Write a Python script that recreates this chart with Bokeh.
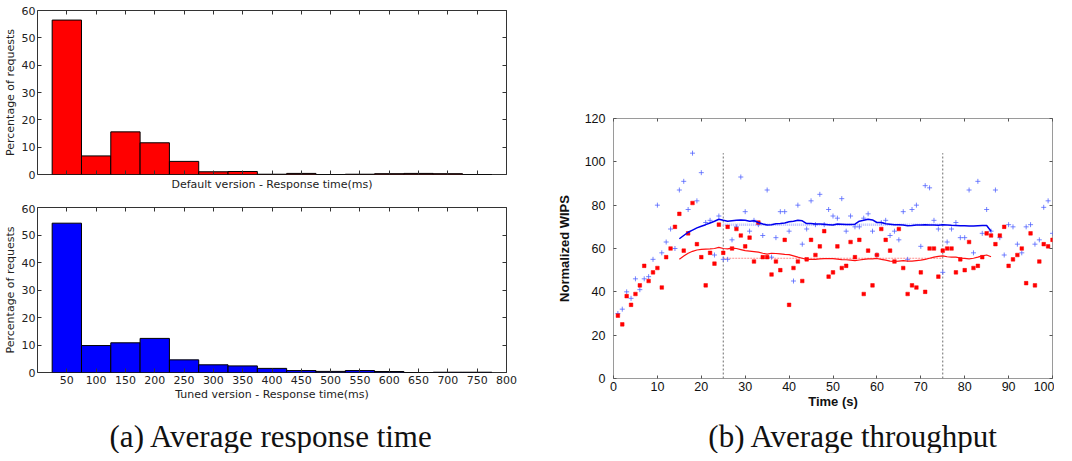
from bokeh.plotting import figure
from bokeh.models import LinearAxis, FixedTicker, Range1d
from bokeh.layouts import column, row
from bokeh.embed import file_html
from bokeh.resources import INLINE
from bokeh.core.properties import value

# ---------------- data ----------------
bin_centers = [50, 100, 150, 200, 250, 300, 350, 400, 450, 500, 550, 600, 650, 700, 750]
default_pct = [56.5, 6.8, 15.6, 11.6, 4.8, 1.0, 1.1, 0.1, 0.4, 0.0, 0.1, 0.3, 0.4, 0.3, 0.0]
tuned_pct = [54.3, 9.8, 10.8, 12.4, 4.6, 2.8, 2.4, 1.5, 0.7, 0.4, 0.7, 0.35, 0.0, 0.1, 0.1]
hist_ticks = [50, 100, 150, 200, 250, 300, 350, 400, 450, 500, 550, 600, 650, 700, 750, 800]
pct_ticks = [0, 10, 20, 30, 40, 50, 60]

time_s = list(range(1, 101))
wips_default = [29, 25, 38, 34, 39, 43, 52, 45, 49, 51,
                42, 56, 60, 70, 76, 59, 67, 81, 62, 56,
                43, 58, 53, 71, 58, 70, 60, 69, 66, 61,
                65, 54, 72, 56, 56, 48, 54, 50, 64, 34,
                51, 54, 45, 55, 64, 57, 61, 68, 47, 49,
                61, 51, 52, 63, 56, 64, 39, 59, 43, 57,
                69, 64, 59, 54, 69, 51, 39, 43, 42, 49,
                40, 60, 60, 47, 59, 60, 60, 49, 55, 50,
                63, 51, 52, 56, 67, 66, 62, 66, 70, 52,
                55, 57, 60, 44, 67, 43, 54, 62, 61, 64]
wips_tuned = [30, 32, 40, 37, 46, 41, 46, 47, 55, 80,
              58, 63, 69, 60, 87, 91, 78, 104, 82, 95,
              72, 73, 57, 75, 55, 55, 64, 70, 93, 77,
              68, 73, 71, 66, 87, 56, 65, 77, 77, 68,
              45, 80, 62, 69, 82, 71, 85, 71, 78, 75,
              74, 83, 68, 75, 70, 70, 74, 76, 68, 57,
              72, 73, 66, 68, 64, 77, 55, 78, 80, 61,
              89, 88, 73, 69, 49, 63, 69, 72, 65, 65,
              87, 58, 91, 67, 78, 68, 87, 65, 57, 71,
              70, 62, 58, 70, 71, 62, 64, 79, 82, 67]

avg_time = list(range(15, 87))
avg_tuned = [64.5, 66, 67.5, 68.5, 69.5, 70.3, 71, 71.8, 72.6, 73.5,
             73, 72.6, 72.8, 73, 73.2, 73, 72.6, 72.8, 72, 71.3,
             70.8, 71, 71.4, 71.5, 71.8, 72.3, 72.6, 73, 72.8, 71.5,
             71.5, 71.3, 71.3, 71.2, 71, 70.8, 71.3, 71.2, 71.1, 71.1,
             71.2, 72.6, 73, 73.5, 73.2, 72, 72, 71.4, 71.2, 71,
             71, 70.8, 70.5, 70.6, 70.8, 70.8, 71, 70.9, 70.9, 70.7,
             71, 70.9, 70.7, 70.6, 70.5, 70.5, 70.4, 70.4, 70.5, 70.6,
             70.6, 68]
avg_default = [55, 56.5, 57.8, 58.7, 59.3, 59.6, 59.7, 59.8, 60, 60.5,
               60, 59.8, 60.2, 60, 59.5, 59, 58.8, 58.6, 58.3, 57.8,
               57.4, 57.8, 57.7, 57.5, 57.3, 57.2, 56.6, 56, 55.5, 55,
               55, 55, 55.2, 55.3, 55.3, 55.3, 55.1, 54.9, 54.8, 54.6,
               54.4, 54.7, 55, 55.2, 55.2, 55.4, 55, 54.6, 54.2, 54,
               54.2, 54.4, 54.2, 54.2, 54.4, 54.6, 55, 55.5, 56, 56.4,
               56.6, 56.2, 56, 56, 55.6, 55.4, 55.2, 55.5, 56, 56.6,
               57, 56.2]

steady_window = [25, 75]
steady_tuned = 71.0
steady_default = 55.5
phase_bounds = [25, 75]
phase_top = 104
time_ticks = [0, 10, 20, 30, 40, 50, 60, 70, 80, 90, 100]
wips_ticks = [0, 20, 40, 60, 80, 100, 120]

captions = ["(a) Average response time", "(b) Average throughput"]

HFONT = "DejaVu Sans"
SFONT = "Liberation Sans"


def hide_labels(ax):
    ax.major_label_text_color = None
    ax.major_label_text_font_size = "1px"
    ax.major_label_standoff = 0


def tick_axis(ticker, tick_len, color):
    ax = LinearAxis(ticker=FixedTicker(ticks=ticker),
                    major_tick_in=tick_len, major_tick_out=0,
                    minor_tick_in=0, minor_tick_out=0, axis_line_color=None,
                    major_tick_line_color=color)
    hide_labels(ax)
    return ax


def hist_fig(vals, color, xlabel, show_xlabels, frame_h, top_border, bottom_border):
    p = figure(frame_width=469, frame_height=frame_h,
               x_range=Range1d(0, 800), y_range=Range1d(0, 60),
               min_border_left=31, min_border_right=18,
               min_border_top=top_border, min_border_bottom=bottom_border,
               output_backend="svg", toolbar_location=None)
    p.vbar(x=bin_centers, width=50, top=vals, bottom=0, fill_color=color,
           line_color="black", line_width=1)
    p.grid.visible = False
    p.outline_line_color = "#333333"
    p.outline_line_width = 1
    for ax in p.axis:
        ax.axis_line_color = None
        ax.major_tick_in = 4
        ax.major_tick_out = 0
        ax.minor_tick_in = 0
        ax.minor_tick_out = 0
        ax.major_tick_line_color = "#333333"
        ax.major_label_text_font = HFONT
        ax.major_label_text_font_size = "11px"
        ax.major_label_text_color = "#222222"
        ax.axis_label_text_font = HFONT
        ax.axis_label_text_font_size = "11px"
        ax.axis_label_text_font_style = "normal"
        ax.axis_label_text_color = "#222222"
    p.xaxis.ticker = FixedTicker(ticks=hist_ticks)
    p.yaxis.ticker = FixedTicker(ticks=pct_ticks)
    p.yaxis.axis_label = "Percentage of requests"
    p.yaxis.major_label_standoff = 2
    p.yaxis.axis_label_standoff = 2
    p.xaxis.axis_label = xlabel
    if show_xlabels:
        p.xaxis.major_label_standoff = 3
        p.xaxis.axis_label_standoff = 1
    else:
        hide_labels(p.xaxis[0])
        p.xaxis.axis_label_standoff = 3
    p.add_layout(tick_axis(hist_ticks, 4, "#333333"), "above")
    p.add_layout(tick_axis(pct_ticks, 4, "#333333"), "right")
    return p


h_default = hist_fig(default_pct, "#ff0000", "Default version - Response time(ms)", False, 164, 10, 30)
h_tuned = hist_fig(tuned_pct, "#0000ff", "Tuned version - Response time(ms)", True, 165, 3, 36)

# ---------------- throughput scatter ----------------
s = figure(frame_width=439, frame_height=260,
           x_range=Range1d(0, 100), y_range=Range1d(0, 120),
           min_border_left=89, min_border_right=2, min_border_top=118, min_border_bottom=30,
           output_backend="svg", toolbar_location=None)
s.grid.visible = False
s.outline_line_color = "#9a9a9a"
s.outline_line_width = 1

s.segment(x0=phase_bounds, y0=[0, 0], x1=phase_bounds, y1=[phase_top, phase_top],
          line_color="#6e6e6e", line_width=1, line_dash="2 2")
s.line(x=steady_window, y=[steady_tuned, steady_tuned], line_color="#b4bcff",
       line_width=2.5, line_dash="1 1")
s.line(x=steady_window, y=[steady_default, steady_default], line_color="#ff8c8c",
       line_width=1, line_dash="2 1")
s.scatter(x=time_s, y=wips_tuned, marker="cross", size=5, line_color="#4a5cff",
          line_width=1, line_alpha=0.75)
s.scatter(x=time_s, y=wips_default, marker="square", size=3.6, fill_color="#ff0000",
          line_color="#ff0000", line_width=0.5)
s.line(x=avg_time, y=avg_tuned, line_color="#0000ee", line_width=1.5)
s.line(x=avg_time, y=avg_default, line_color="#ff1010", line_width=1.2)

for ax in s.axis:
    ax.axis_line_color = None
    ax.major_tick_in = 3
    ax.major_tick_out = 0
    ax.minor_tick_in = 0
    ax.minor_tick_out = 0
    ax.major_tick_line_color = "#555555"
    ax.major_label_text_font = SFONT
    ax.major_label_text_font_size = "12.5px"
    ax.major_label_text_color = "#111111"
    ax.axis_label_text_font = SFONT
    ax.axis_label_text_font_size = "13px"
    ax.axis_label_text_font_style = "bold"
    ax.axis_label_text_color = "#111111"
s.xaxis.ticker = FixedTicker(ticks=time_ticks)
s.yaxis.ticker = FixedTicker(ticks=wips_ticks)
s.yaxis.axis_label = "Normalized WIPS"
s.yaxis.major_label_standoff = 8
s.yaxis.axis_label_standoff = 10
s.xaxis.axis_label = "Time (s)"
s.xaxis.major_label_standoff = 3
s.xaxis.axis_label_standoff = 0
s.add_layout(tick_axis(time_ticks, 3, "#555555"), "above")
s.add_layout(tick_axis(wips_ticks, 3, "#555555"), "right")

# ---------------- captions ----------------
cap = figure(width=1048, height=42, x_range=Range1d(0, 1048), y_range=Range1d(0, 42),
             min_border=0, output_backend="svg", toolbar_location=None)
cap.axis.visible = False
cap.grid.visible = False
cap.outline_line_color = None
cap.text(x=[271, 853], y=[17, 17], text=captions, text_font=value("Liberation Serif"),
         text_font_size="31px", text_align="center", text_baseline="middle",
         text_color="#111111")

layout = column(row(column(h_default, h_tuned), s), cap)
open("out.html", "w").write(file_html(layout, INLINE))
